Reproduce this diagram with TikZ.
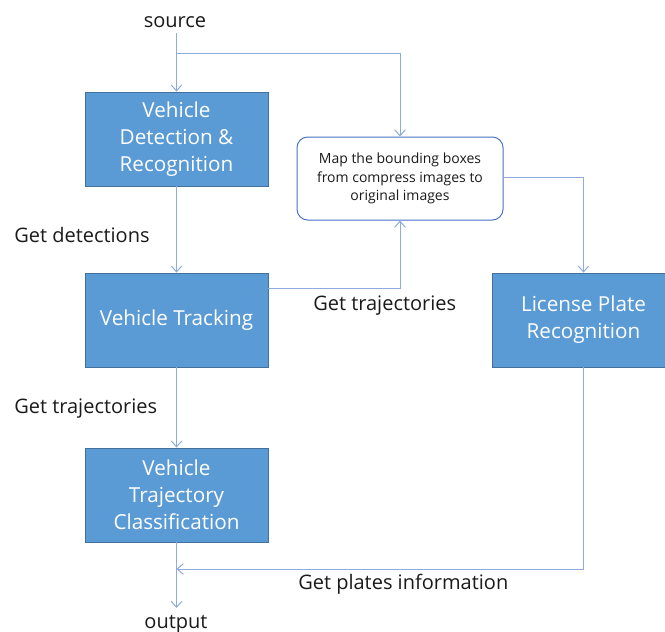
\documentclass[tikz,border=0pt]{standalone}
\usepackage{fontspec}
\setmainfont{Open Sans}
\usetikzlibrary{arrows.meta}
\definecolor{boxfill}{HTML}{5B9BD5}
\definecolor{boxedge}{HTML}{41719C}
\definecolor{wire}{HTML}{8FAADC}
\definecolor{roundedge}{HTML}{4472C4}
\definecolor{ink}{HTML}{1A1A1A}
\tikzset{
  stage/.style={draw=boxedge, line width=0.6pt, fill=boxfill, text=white,
    minimum width=137.25pt, minimum height=70.5pt, align=center,
    inner sep=0pt, font=\fontsize{15.5}{20.25}\selectfont,
    execute at begin node={\vspace*{3pt}}},
  mapbox/.style={draw=roundedge, line width=0.75pt, rounded corners=8pt, fill=white,
    minimum width=154.5pt, minimum height=62.25pt, align=center, inner sep=0pt,
    text=ink, font=\fontsize{10.5}{13.9}\selectfont},
  lbl/.style={text=ink, inner sep=0pt, font=\fontsize{15}{18}\selectfont},
  flow/.style={draw=wire, line width=0.75pt,
    -{Straight Barb[length=4.5pt,width=8pt,line width=0.75pt]}},
  plain/.style={draw=wire, line width=0.75pt},
}
\begin{document}
\begin{tikzpicture}[x=0.75pt,y=-0.75pt]
\useasboundingbox (0,0) rectangle (665,632);

% processing stages
\node[stage] (det) at (176.5,139) {Vehicle\\Detection \&\\Recognition};
\node[stage] (trk) at (176.5,320) {Vehicle Tracking};
\node[stage] (cls) at (176.5,495) {Vehicle\\Trajectory\\Classification};
\node[stage] (lpr) at (583.5,320) {License Plate\\Recognition};
\node[mapbox] (map) at (400,178.5) {Map the bounding boxes\\from compress images to\\original images};

% terminals
\node[lbl] (src) at (175,22) {source};
\node[lbl] (out) at (176,624) {output};
\coordinate (srctop) at (176.5,33);
\coordinate (split) at (176.5,53);
\coordinate (outend) at (176.5,608);
\coordinate (merge) at (176.5,569);
\coordinate (tap) at (268,288);
\coordinate (mapout) at (503,177);

% connectors
\draw[plain] (srctop) -- (split);
\draw[flow] (split) -- (det.north);
\draw[flow] (split) -| (map.north);
\draw[flow] (det.south) -- (trk.north);
\draw[flow] (tap) -| (map.south);
\draw[flow] (mapout) -| (lpr.north);
\draw[flow] (trk.south) -- (cls.north);
\draw[plain] (cls.south) -- (merge);
\draw[flow] (merge) -- (outend);
\draw[flow] (lpr.south) |- (merge);

% connector labels
\node[lbl, anchor=west] (l1) at (14,235) {Get detections};
\node[lbl, anchor=west] (l2) at (313,306) {Get trajectories};
\node[lbl, anchor=west] (l3) at (14,409) {Get trajectories};
\node[lbl, anchor=west] (l4) at (298,584) {Get plates information};
\end{tikzpicture}
\end{document}
